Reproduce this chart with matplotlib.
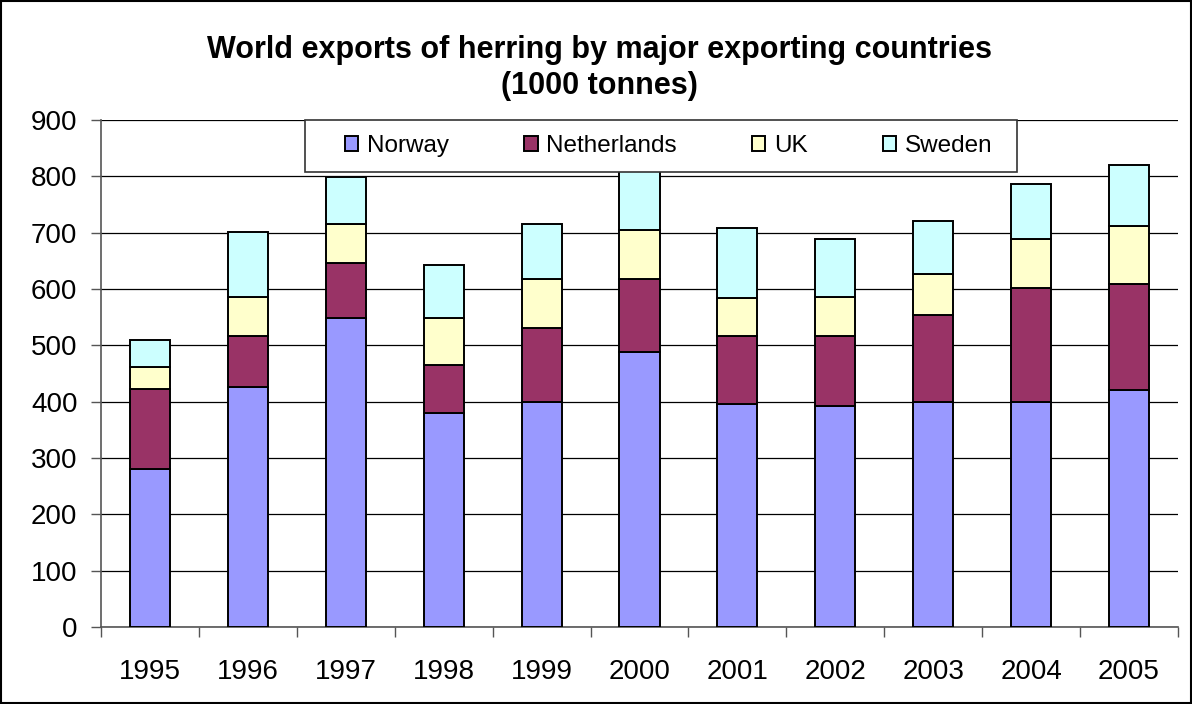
import matplotlib
matplotlib.use("Agg")
import matplotlib.pyplot as plt
from matplotlib.patches import Rectangle
import numpy as np

plt.rcParams['font.family'] = ['Liberation Sans', 'DejaVu Sans']

years = ['1995', '1996', '1997', '1998', '1999', '2000', '2001', '2002', '2003', '2004', '2005']
norway = [281, 426, 548, 379, 399, 489, 395, 392, 400, 400, 421]
netherlands = [142, 91, 98, 86, 132, 129, 122, 125, 153, 201, 187]
uk = [38, 69, 69, 84, 87, 87, 67, 69, 73, 87, 104]
sweden = [49, 115, 84, 94, 97, 110, 124, 102, 94, 98, 109]

series = [('Norway', norway, '#9999FF'),
          ('Netherlands', netherlands, '#993366'),
          ('UK', uk, '#FFFFCC'),
          ('Sweden', sweden, '#CCFFFF')]

fig = plt.figure(figsize=(11.92, 7.04), dpi=100)
ax = fig.add_axes([101/1192, 1 - 627/704, 1077/1192, 507/704])

x = np.arange(len(years))
bottom = np.zeros(len(years))
for name, vals, color in series:
    ax.bar(x, vals, width=0.41, bottom=bottom, color=color, edgecolor='black',
           linewidth=1.4, label=name, zorder=3)
    bottom += np.array(vals)

ax.set_xlim(-0.5, len(years) - 0.5)
ax.set_ylim(0, 900)
ax.set_yticks(np.arange(0, 901, 100))
ax.yaxis.grid(True, color='black', linewidth=0.9, zorder=0)
ax.set_axisbelow(True)

ax.set_xticks(x)
ax.set_xticklabels(years, fontsize=20)
ax.set_xticks(np.arange(-0.5, len(years), 1), minor=True)
ax.tick_params(axis='x', which='major', length=0, pad=23)
ax.tick_params(axis='x', which='minor', length=7, width=1, color='#555555', direction='out')
ax.tick_params(axis='y', length=7, width=1, color='#555555', labelsize=20, pad=10)

for s in ['top', 'right']:
    ax.spines[s].set_visible(False)
ax.spines['left'].set_color('#555555')
ax.spines['bottom'].set_color('#555555')
ax.spines['left'].set_linewidth(1.2)
ax.spines['bottom'].set_linewidth(1.2)

# legend frame
frame = Rectangle((204/1077, 455/507), 712/1077, 52/507, transform=ax.transAxes,
                  facecolor='white', edgecolor='#333333', linewidth=1.2, zorder=8,
                  clip_on=False)
ax.add_patch(frame)

leg = ax.legend(loc='center left', bbox_to_anchor=(244/1077, 481/507),
                ncol=4, fontsize=17.5, frameon=False, handlelength=0.55,
                handleheight=0.55, handletextpad=0.35, borderaxespad=0, borderpad=0,
                columnspacing=3.1)
leg.set_zorder(10)

fig.text(0.503, 1 - 68/704, 'World exports of herring by major exporting countries\n(1000 tonnes)',
         ha='center', va='center', fontsize=22, fontweight='bold', linespacing=1.3)

fig.patches.append(Rectangle((0.0008, 0.0012), 0.9984, 0.9976, transform=fig.transFigure,
                             fill=False, edgecolor='black', linewidth=1.5))

fig.savefig('out.png', dpi=100)
